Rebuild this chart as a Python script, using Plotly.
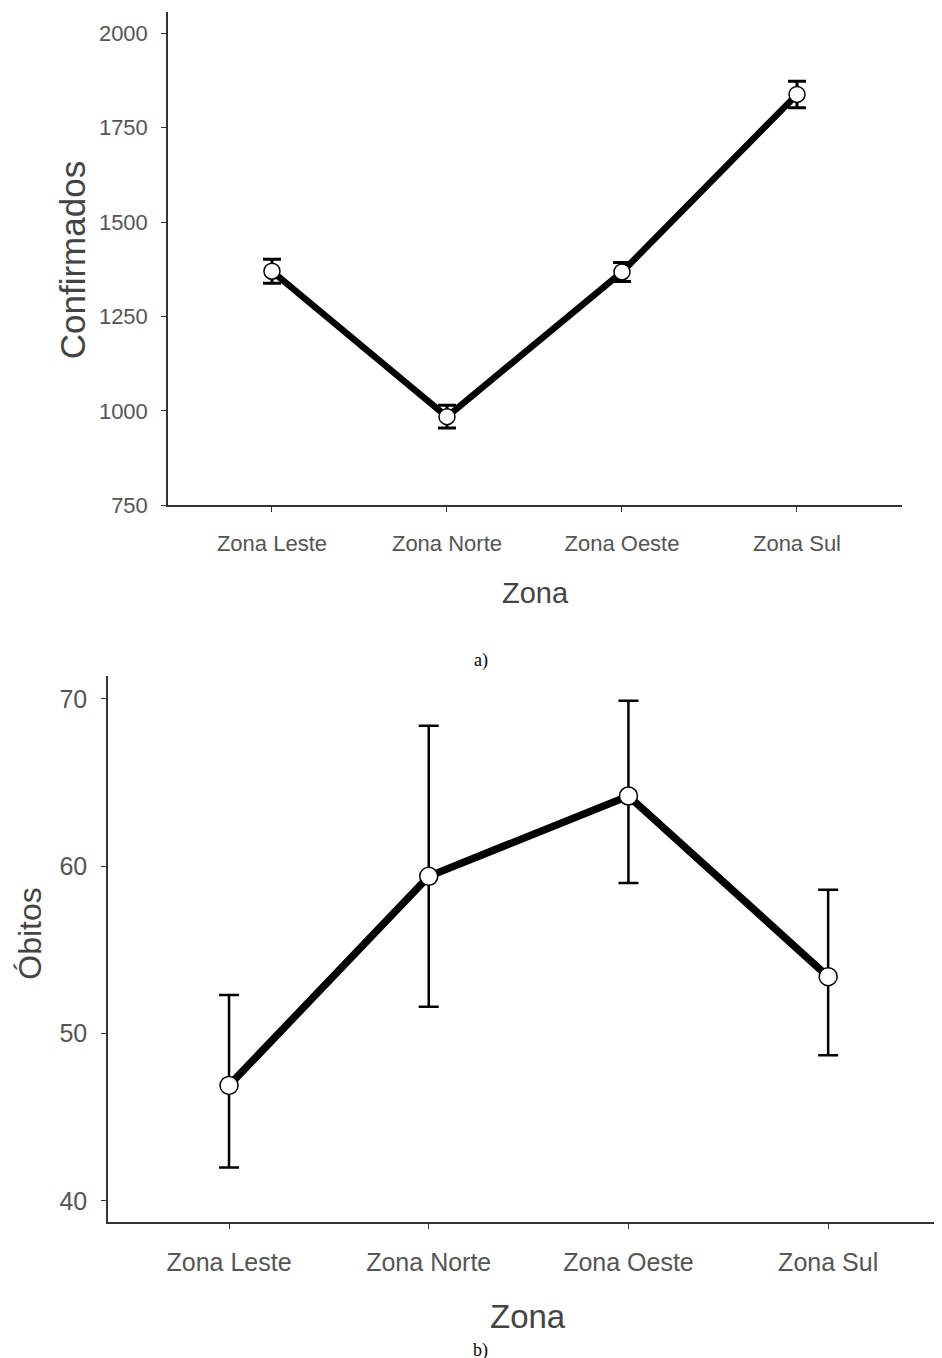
import plotly.graph_objects as go

zonas = ["Zona Leste", "Zona Norte", "Zona Oeste", "Zona Sul"]
confirmados = [1370, 985, 1368, 1838]
confirmados_err = [32, 30, 25, 35]
obitos = [46.9, 59.4, 64.2, 53.4]
obitos_up = [52.3, 68.4, 69.9, 58.6]
obitos_lo = [42.0, 51.6, 59.0, 48.7]

OFF = 8          # page body margin
SY = 1.0104      # vertical compensation
W = 942 - 2 * OFF
H = 1356


def px(x):
    return min(max((x - OFF) / W, 0), 1)


def py(y):
    return min(max(1 - (y * SY - OFF) / H, 0), 1)


font_ticks = "Liberation Sans, Arial"

fig = go.Figure()
fig.add_trace(go.Scatter(
    x=zonas, y=confirmados, mode="lines+markers",
    line=dict(color="black", width=6.5),
    marker=dict(size=16, color="white", line=dict(color="black", width=1.5)),
    error_y=dict(type="data", array=confirmados_err, color="black", thickness=3, width=9),
    xaxis="x", yaxis="y", showlegend=False))
fig.add_trace(go.Scatter(
    x=zonas, y=obitos, mode="lines+markers",
    line=dict(color="black", width=7.5),
    marker=dict(size=18, color="white", line=dict(color="black", width=1.5)),
    error_y=dict(type="data", symmetric=False,
                 array=[u - v for u, v in zip(obitos_up, obitos)],
                 arrayminus=[v - l for v, l in zip(obitos, obitos_lo)],
                 color="black", thickness=2.5, width=10),
    xaxis="x2", yaxis="y2", showlegend=False))


def axis(size, standoff):
    return dict(showgrid=False, zeroline=False, showline=True, linecolor="#333",
                linewidth=1.5, ticks="outside", ticklen=5, tickcolor="#333",
                ticklabelstandoff=standoff,
                tickfont=dict(family=font_ticks, size=size, color="#555"))


def note(text, x, y, size, angle=0, family=font_ticks, color="#444"):
    return dict(text=text, x=px(x), y=py(y), xref="paper", yref="paper", showarrow=False,
                xanchor="center", yanchor="middle", textangle=angle,
                font=dict(family=family, size=size, color=color))


fig.update_layout(
    width=W, height=H, margin=dict(l=0, r=0, t=0, b=0),
    plot_bgcolor="white", paper_bgcolor="white",
    xaxis=dict(domain=[px(168), px(902)], anchor="y", range=[-0.594, 3.6], **axis(22, 12)),
    yaxis=dict(domain=[py(505), py(12)], anchor="x", range=[750, 2056],
               tickvals=[750, 1000, 1250, 1500, 1750, 2000], **axis(22, 9)),
    xaxis2=dict(domain=[px(108), px(940)], anchor="y2", range=[-0.606, 3.53], **axis(25, 12)),
    yaxis2=dict(domain=[py(1221), py(675)], anchor="x2", range=[38.74, 71.4],
                tickvals=[40, 50, 60, 70], **axis(25, 9)),
    annotations=[
        note("Zona", 535, 593, 29),
        note("Confirmados", 72, 260, 35, angle=-90),
        note("Zona", 528, 1315, 33),
        note("Óbitos", 30, 933, 32, angle=-90),
        note("a)", 481, 660, 18, family="Liberation Serif, Times New Roman", color="black"),
        note("b)", 481, 1349, 18, family="Liberation Serif, Times New Roman", color="black"),
    ],
)

fig.write_html("out.html")
